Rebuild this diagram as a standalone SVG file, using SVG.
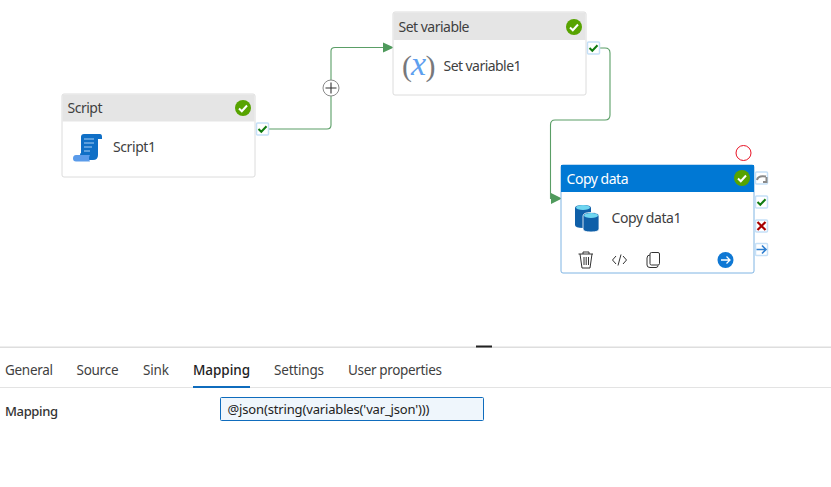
<svg xmlns="http://www.w3.org/2000/svg" width="831" height="487" viewBox="0 0 831 487">
<style>
text{font-family:"Noto Sans","Open Sans","Liberation Sans",sans-serif;font-size:14px;fill:#3f3f3f}
.card{fill:#fff;stroke:#dcdcdc;stroke-width:1}
.head{fill:#e5e5e5}
.conn{fill:none;stroke:#5a9e66;stroke-width:1.1}
.port{fill:#fff;stroke:#c5e0f7;stroke-width:1.500}
.ok{fill:none;stroke:#107c10;stroke-width:2}
.tick{fill:none;stroke:#fff;stroke-width:2}
.tab{font-size:13.500px}
</style>
<defs>
<g id="badge"><circle r="8" fill="#57a300"/><path class="tick" d="M-4 0.500L-1.200 3.200L4 -2.500"/></g>
<g id="port"><rect class="port" x="-6" y="-6" width="12" height="12" rx="1"/><path class="ok" d="M-4 0L-1.200 2.800L4 -2.800"/></g>
</defs>
<rect width="831" height="487" fill="#fff"/>
<g id="connectors">
<path class="conn" d="M268 129H327Q331 129 331 125V51Q331 47.500 335 47.500H385"/>
<path d="M383 42.500L394 47.500L383 52.500Z" fill="#4f9a5c"/>
<path class="conn" d="M599 48H605Q610 48 610 53V115Q610 120 605 120H555Q550.500 120 550.500 125V198.500H553"/>
<path d="M551 193L562 198.500L551 204Z" fill="#4f9a5c"/>
<circle cx="331" cy="88" r="8" fill="#fff" stroke="#8a8a8a"/>
<path d="M325.500 88H336.500M331 82.500V93.500" stroke="#333" stroke-width="1.100"/>
</g>
<g id="node-script">
<rect class="card" x="62" y="94" width="193" height="83" rx="2"/>
<rect class="head" x="62.500" y="94.500" width="192" height="27"/>
<text x="67.500" y="113" textLength="35">Script</text>
<use href="#badge" x="243" y="108"/>
<path d="M81 137Q81 134 84 134H100Q102 134 102 137V139H98V155Q98 160 93 160H80V155Q80 153 81 153Z" fill="#0f6fc6"/>
<path d="M76 155H90Q88 158 90 161.500H76Q73 161.500 73 158.500Q73 155 76 155Z" fill="#5a9bea"/>
<path d="M84 139H94M84 143H94M84 147H92M84 151H90" stroke="#a9d0f5" stroke-width="1"/>
<text x="113" y="152" textLength="43">Script1</text>
<use href="#port" x="262.500" y="129"/>
</g>
<g id="node-setvariable">
<rect class="card" x="393" y="12" width="193" height="83" rx="2"/>
<rect class="head" x="393.500" y="12.500" width="192" height="27.500"/>
<text x="398.500" y="32" textLength="71">Set variable</text>
<use href="#badge" x="574" y="27"/>
<text x="402" y="76" style="font-family:'Liberation Serif',serif;font-size:30px;fill:#77787b">(</text>
<text x="411" y="75" style="font-family:'Liberation Serif',serif;font-style:italic;font-size:34px;fill:#5ea0ef">x</text>
<text x="425.500" y="76" style="font-family:'Liberation Serif',serif;font-size:30px;fill:#77787b">)</text>
<text x="443.500" y="71" textLength="78">Set variable1</text>
<use href="#port" x="593.500" y="48"/>
</g>
<g id="node-copydata">
<rect x="561" y="165" width="193" height="108" rx="2" fill="#fff" stroke="#7fb4e3"/>
<rect x="561" y="165" width="193" height="27" fill="#0078d4"/>
<text x="566.500" y="184" textLength="62" style="fill:#fff">Copy data</text>
<use href="#badge" x="742" y="178"/>
<path d="M575 208Q575 205 583 205Q591 205 591 208V225Q591 228 583 228Q575 228 575 225Z" fill="#0f5fa8"/>
<ellipse cx="583" cy="207.500" rx="7" ry="2.500" fill="#6fd6f0"/>
<path d="M583 216Q583 212.500 591 212.500Q599 212.500 599 216V229Q599 232 591 232Q583 232 583 229Z" fill="#0f5fa8" stroke="#fff" stroke-width="0.800"/>
<ellipse cx="591" cy="215.500" rx="7" ry="2.500" fill="#6fd6f0"/>
<text x="611.500" y="223" textLength="70">Copy data1</text>
<path d="M578.500 254H593M583 254V252H589V254M580 254L582 268H590L592 254M584 257V265M586.200 257V265M588.500 257V265" fill="none" stroke="#333" stroke-width="1"/>
<path d="M616 256L612.500 260L616 264M623 256L626.500 260L623 264M621 254.500L618 265.500" fill="none" stroke="#333" stroke-width="1"/>
<path d="M650 255Q647 255 647 258V265Q647 267.500 650 267.500H656Q658 267.500 658 265.500" fill="none" stroke="#333" stroke-width="1"/>
<rect x="650" y="252.500" width="9.500" height="12.500" rx="1.500" fill="none" stroke="#333" stroke-width="1"/>
<circle cx="725.500" cy="260" r="8" fill="#0f78d4"/>
<path d="M721 260H730M726.500 256.500L730 260L726.500 263.500" fill="none" stroke="#fff" stroke-width="1.300"/>
<circle cx="743.500" cy="153" r="7.500" fill="none" stroke="#e81123" stroke-width="1"/>
<rect class="port" x="755.500" y="172" width="12" height="12" rx="1"/>
<path d="M757 180Q758 175 766 176.500M763 182H766.500V177" fill="none" stroke="#8a8a8a" stroke-width="2"/>
<use href="#port" x="761.500" y="202"/>
<rect class="port" x="755.500" y="220" width="12" height="12" rx="1"/>
<path d="M757.500 222L765.500 230M765.500 222L757.500 230" stroke="#a80000" stroke-width="2.200"/>
<rect class="port" x="755.500" y="243.500" width="12" height="12" rx="1"/>
<path d="M756.500 249.500H765.500M762 245.500L766 249.500L762 253.500" fill="none" stroke="#2f7fd0" stroke-width="1.600"/>
</g>
<g id="panel">
<rect x="0" y="346.500" width="831" height="1.500" fill="#dedede"/>
<rect x="476" y="345.500" width="16" height="2" fill="#222"/>
<text class="tab" x="5" y="375" textLength="48">General</text>
<text class="tab" x="76.500" y="375" textLength="42">Source</text>
<text class="tab" x="143" y="375" textLength="26">Sink</text>
<text class="tab" x="193" y="375" textLength="57" style="font-weight:500;fill:#222">Mapping</text>
<text class="tab" x="274" y="375" textLength="50">Settings</text>
<text class="tab" x="348" y="375" textLength="94">User properties</text>
<rect x="0" y="387" width="831" height="1" fill="#e3e3e3"/>
<rect x="193" y="386" width="57" height="2" fill="#0f6cbd"/>
<text x="5" y="416" textLength="53" style="font-size:13px;font-weight:500;fill:#333">Mapping</text>
<rect x="220.500" y="397.500" width="263" height="23" rx="1" fill="#eff6fc" stroke="#0f6cbd"/>
<text x="227.500" y="414" textLength="202" style="font-size:13px;fill:#222">@json(string(variables('var_json')))</text>
</g>
</svg>
